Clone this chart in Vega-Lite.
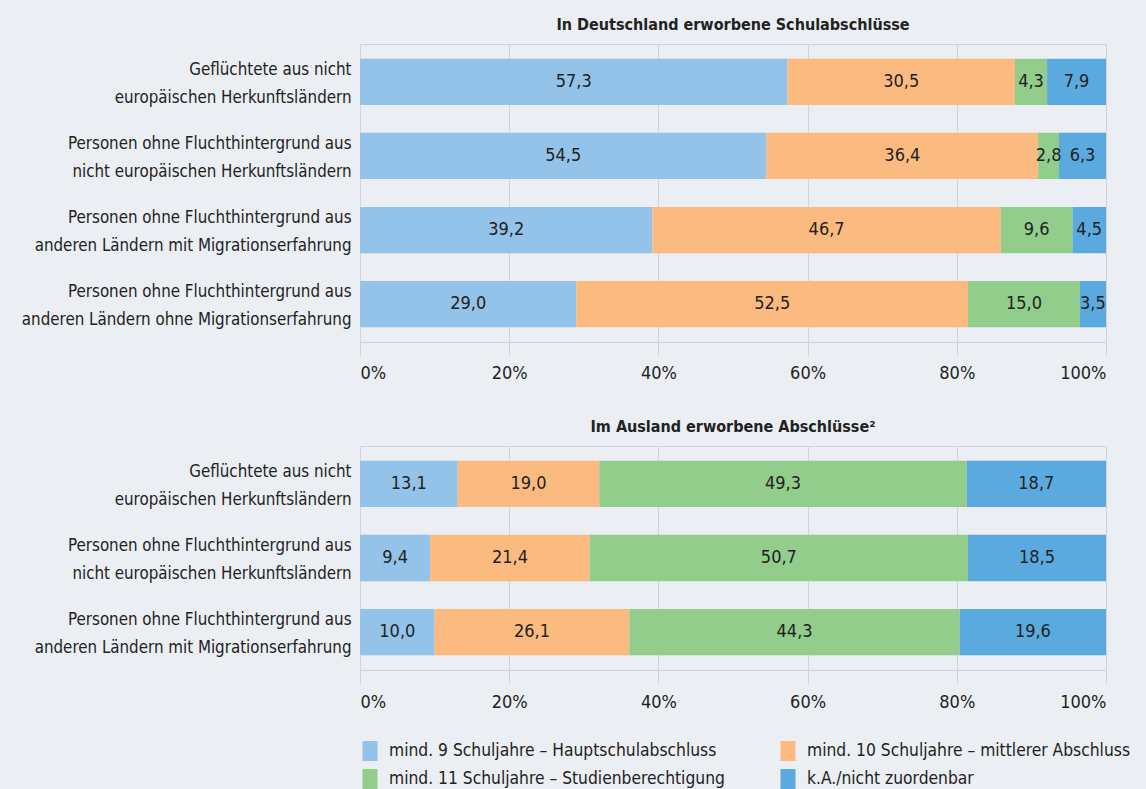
{
  "$schema": "https://vega.github.io/schema/vega-lite/v6.json",
  "background": "#ebeef2",
  "padding": {"left": 20, "top": 16, "right": 40, "bottom": 20},
  "config": {
    "locale": {"number": {"decimal": ",", "thousands": ".", "grouping": [3], "currency": ["", " €"]}},
    "font": "DejaVu Sans Condensed",
    "view": {"stroke": "#d0d3d7"},
    "concat": {"spacing": 35},
    "title": {"fontSize": 16, "fontWeight": "bold", "color": "#222222", "offset": 11, "anchor": "middle"},
    "axis": {"labelColor": "#222222", "domainColor": "#d0d3d7", "gridColor": "#d0d3d7", "tickColor": "#d0d3d7", "title": null},
    "legend": {"orient": "bottom", "offset": 29, "columns": 2, "title": null, "symbolType": "M-0.75,-1H0.75V1H-0.75Z", "symbolSize": 400, "symbolStrokeWidth": 0, "labelFontSize": 17.3, "labelColor": "#222222", "labelLimit": 500, "columnPadding": 53, "rowPadding": 8, "labelOffset": 9}
  },
  "datasets": {
    "d": [
      {"panel": 1, "group": "Geflüchtete aus nicht|europäischen Herkunftsländern", "cat": "mind. 9 Schuljahre – Hauptschulabschluss", "k": 1, "value": 57.3},
      {"panel": 1, "group": "Geflüchtete aus nicht|europäischen Herkunftsländern", "cat": "mind. 10 Schuljahre – mittlerer Abschluss", "k": 2, "value": 30.5},
      {"panel": 1, "group": "Geflüchtete aus nicht|europäischen Herkunftsländern", "cat": "mind. 11 Schuljahre – Studienberechtigung", "k": 3, "value": 4.3},
      {"panel": 1, "group": "Geflüchtete aus nicht|europäischen Herkunftsländern", "cat": "k.A./nicht zuordenbar", "k": 4, "value": 7.9},
      {"panel": 1, "group": "Personen ohne Fluchthintergrund aus|nicht europäischen Herkunftsländern", "cat": "mind. 9 Schuljahre – Hauptschulabschluss", "k": 1, "value": 54.5},
      {"panel": 1, "group": "Personen ohne Fluchthintergrund aus|nicht europäischen Herkunftsländern", "cat": "mind. 10 Schuljahre – mittlerer Abschluss", "k": 2, "value": 36.4},
      {"panel": 1, "group": "Personen ohne Fluchthintergrund aus|nicht europäischen Herkunftsländern", "cat": "mind. 11 Schuljahre – Studienberechtigung", "k": 3, "value": 2.8},
      {"panel": 1, "group": "Personen ohne Fluchthintergrund aus|nicht europäischen Herkunftsländern", "cat": "k.A./nicht zuordenbar", "k": 4, "value": 6.3},
      {"panel": 1, "group": "Personen ohne Fluchthintergrund aus|anderen Ländern mit Migrationserfahrung", "cat": "mind. 9 Schuljahre – Hauptschulabschluss", "k": 1, "value": 39.2},
      {"panel": 1, "group": "Personen ohne Fluchthintergrund aus|anderen Ländern mit Migrationserfahrung", "cat": "mind. 10 Schuljahre – mittlerer Abschluss", "k": 2, "value": 46.7},
      {"panel": 1, "group": "Personen ohne Fluchthintergrund aus|anderen Ländern mit Migrationserfahrung", "cat": "mind. 11 Schuljahre – Studienberechtigung", "k": 3, "value": 9.6},
      {"panel": 1, "group": "Personen ohne Fluchthintergrund aus|anderen Ländern mit Migrationserfahrung", "cat": "k.A./nicht zuordenbar", "k": 4, "value": 4.5},
      {"panel": 1, "group": "Personen ohne Fluchthintergrund aus|anderen Ländern ohne Migrationserfahrung", "cat": "mind. 9 Schuljahre – Hauptschulabschluss", "k": 1, "value": 29.0},
      {"panel": 1, "group": "Personen ohne Fluchthintergrund aus|anderen Ländern ohne Migrationserfahrung", "cat": "mind. 10 Schuljahre – mittlerer Abschluss", "k": 2, "value": 52.5},
      {"panel": 1, "group": "Personen ohne Fluchthintergrund aus|anderen Ländern ohne Migrationserfahrung", "cat": "mind. 11 Schuljahre – Studienberechtigung", "k": 3, "value": 15.0},
      {"panel": 1, "group": "Personen ohne Fluchthintergrund aus|anderen Ländern ohne Migrationserfahrung", "cat": "k.A./nicht zuordenbar", "k": 4, "value": 3.5},
      {"panel": 2, "group": "Geflüchtete aus nicht|europäischen Herkunftsländern", "cat": "mind. 9 Schuljahre – Hauptschulabschluss", "k": 1, "value": 13.1},
      {"panel": 2, "group": "Geflüchtete aus nicht|europäischen Herkunftsländern", "cat": "mind. 10 Schuljahre – mittlerer Abschluss", "k": 2, "value": 19.0},
      {"panel": 2, "group": "Geflüchtete aus nicht|europäischen Herkunftsländern", "cat": "mind. 11 Schuljahre – Studienberechtigung", "k": 3, "value": 49.3},
      {"panel": 2, "group": "Geflüchtete aus nicht|europäischen Herkunftsländern", "cat": "k.A./nicht zuordenbar", "k": 4, "value": 18.7},
      {"panel": 2, "group": "Personen ohne Fluchthintergrund aus|nicht europäischen Herkunftsländern", "cat": "mind. 9 Schuljahre – Hauptschulabschluss", "k": 1, "value": 9.4},
      {"panel": 2, "group": "Personen ohne Fluchthintergrund aus|nicht europäischen Herkunftsländern", "cat": "mind. 10 Schuljahre – mittlerer Abschluss", "k": 2, "value": 21.4},
      {"panel": 2, "group": "Personen ohne Fluchthintergrund aus|nicht europäischen Herkunftsländern", "cat": "mind. 11 Schuljahre – Studienberechtigung", "k": 3, "value": 50.7},
      {"panel": 2, "group": "Personen ohne Fluchthintergrund aus|nicht europäischen Herkunftsländern", "cat": "k.A./nicht zuordenbar", "k": 4, "value": 18.5},
      {"panel": 2, "group": "Personen ohne Fluchthintergrund aus|anderen Ländern mit Migrationserfahrung", "cat": "mind. 9 Schuljahre – Hauptschulabschluss", "k": 1, "value": 10.0},
      {"panel": 2, "group": "Personen ohne Fluchthintergrund aus|anderen Ländern mit Migrationserfahrung", "cat": "mind. 10 Schuljahre – mittlerer Abschluss", "k": 2, "value": 26.1},
      {"panel": 2, "group": "Personen ohne Fluchthintergrund aus|anderen Ländern mit Migrationserfahrung", "cat": "mind. 11 Schuljahre – Studienberechtigung", "k": 3, "value": 44.3},
      {"panel": 2, "group": "Personen ohne Fluchthintergrund aus|anderen Ländern mit Migrationserfahrung", "cat": "k.A./nicht zuordenbar", "k": 4, "value": 19.6}
    ]
  },
  "vconcat": [
    {
      "title": "In Deutschland erworbene Schulabschlüsse",
      "data": {"name": "d"},
      "transform": [{"filter": "datum.panel == 1"}],
      "width": 746,
      "height": 298,
      "encoding": {
        "y": {"field": "group", "type": "nominal", "sort": null, "scale": {"paddingInner": 0.375, "paddingOuter": 0.2},
              "axis": {"labelExpr": "split(datum.label, '|')", "labelFontSize": 16.8, "labelLineHeight": 28, "labelPadding": 9, "labelOffset": -12, "ticks": false, "grid": false, "labelLimit": 400}},
        "x": {"field": "value", "type": "quantitative", "stack": "normalize",
              "axis": {"format": ".0%", "values": [0, 0.2, 0.4, 0.6, 0.8, 1], "labelFontSize": 18, "tickSize": 13, "labelPadding": 9, "grid": true}},
        "order": {"field": "k"}
      },
      "layer": [
        {"mark": {"type": "bar"},
         "encoding": {"color": {"field": "cat", "type": "nominal",
           "scale": {"domain": ["mind. 9 Schuljahre – Hauptschulabschluss", "mind. 10 Schuljahre – mittlerer Abschluss", "mind. 11 Schuljahre – Studienberechtigung", "k.A./nicht zuordenbar"],
                     "range": ["#93c3e8", "#fbbb80", "#93cd8c", "#5baadf"]}}}},
        {"mark": {"type": "text", "fontSize": 18, "color": "#222222"},
         "encoding": {"x": {"field": "value", "type": "quantitative", "stack": "normalize", "bandPosition": 0.5},
                      "text": {"field": "value", "type": "quantitative", "format": ".1f"},
                      "detail": {"field": "cat"}}}
      ]
    },
    {
      "title": "Im Ausland erworbene Abschlüsse²",
      "data": {"name": "d"},
      "transform": [{"filter": "datum.panel == 2"}],
      "width": 746,
      "height": 224,
      "encoding": {
        "y": {"field": "group", "type": "nominal", "sort": null, "scale": {"paddingInner": 0.375, "paddingOuter": 0.2},
              "axis": {"labelExpr": "split(datum.label, '|')", "labelFontSize": 16.8, "labelLineHeight": 28, "labelPadding": 9, "labelOffset": -12, "ticks": false, "grid": false, "labelLimit": 400}},
        "x": {"field": "value", "type": "quantitative", "stack": "normalize",
              "axis": {"format": ".0%", "values": [0, 0.2, 0.4, 0.6, 0.8, 1], "labelFontSize": 18, "tickSize": 13, "labelPadding": 10, "grid": true}},
        "order": {"field": "k"}
      },
      "layer": [
        {"mark": {"type": "bar"},
         "encoding": {"color": {"field": "cat", "type": "nominal",
           "scale": {"domain": ["mind. 9 Schuljahre – Hauptschulabschluss", "mind. 10 Schuljahre – mittlerer Abschluss", "mind. 11 Schuljahre – Studienberechtigung", "k.A./nicht zuordenbar"],
                     "range": ["#93c3e8", "#fbbb80", "#93cd8c", "#5baadf"]}}}},
        {"mark": {"type": "text", "fontSize": 18, "color": "#222222"},
         "encoding": {"x": {"field": "value", "type": "quantitative", "stack": "normalize", "bandPosition": 0.5},
                      "text": {"field": "value", "type": "quantitative", "format": ".1f"},
                      "detail": {"field": "cat"}}}
      ]
    }
  ],
  "resolve": {"scale": {"color": "shared"}}
}
